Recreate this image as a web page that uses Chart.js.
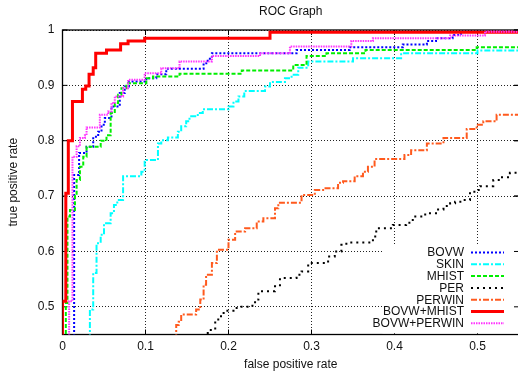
<!DOCTYPE html>
<html>
<head>
<meta charset="utf-8">
<script src="https://cdn.jsdelivr.net/npm/chart.js@4.4.1/dist/chart.umd.min.js"></script>
<style>
  html, body { margin: 0; padding: 0; background: #fff; }
  #wrap { width: 518px; height: 371px; overflow: hidden; }
  #roc { display: block; }
</style>
</head>
<body>
<div id="wrap"><canvas id="roc" width="522" height="371"></canvas></div>
<script>
// tick values
const xTicks = [0, 0.1, 0.2, 0.3, 0.4, 0.5];
const yTicks = [0.5, 0.6, 0.7, 0.8, 0.9, 1];

// series names, in legend order
const seriesNames = ['BOVW', 'SKIN', 'MHIST', 'PER', 'PERWIN', 'BOVW+MHIST', 'BOVW+PERWIN'];

// ROC corner points (false positive rate, true positive rate), drawn as steps
const bovwX = [0.014, 0.014, 0.02, 0.029, 0.037, 0.043, 0.047, 0.051, 0.059, 0.069, 0.075, 0.08, 0.101, 0.113, 0.125, 0.17, 0.175, 0.18, 0.282, 0.346, 0.41, 0.439, 0.45, 0.47, 0.48, 0.55];
const bovwY = [0.44, 0.738, 0.778, 0.789, 0.807, 0.816, 0.829, 0.841, 0.862, 0.886, 0.898, 0.907, 0.913, 0.92, 0.93, 0.94, 0.948, 0.958, 0.964, 0.969, 0.974, 0.98, 0.985, 0.991, 0.997, 0.997];

const skinX = [0.033, 0.033, 0.037, 0.041, 0.046, 0.05, 0.058, 0.062, 0.066, 0.073, 0.095, 0.099, 0.115, 0.119, 0.127, 0.139, 0.143, 0.149, 0.153, 0.163, 0.169, 0.2, 0.206, 0.212, 0.219, 0.244, 0.25, 0.268, 0.276, 0.284, 0.296, 0.35, 0.408, 0.5, 0.55];
const skinY = [0.44, 0.495, 0.561, 0.615, 0.63, 0.651, 0.669, 0.684, 0.693, 0.736, 0.744, 0.765, 0.795, 0.801, 0.806, 0.816, 0.826, 0.835, 0.844, 0.85, 0.857, 0.862, 0.871, 0.88, 0.89, 0.898, 0.906, 0.913, 0.919, 0.932, 0.943, 0.949, 0.958, 0.963, 0.963];

const mhistX = [0.004, 0.004, 0.006, 0.009, 0.015, 0.017, 0.021, 0.025, 0.029, 0.046, 0.053, 0.058, 0.063, 0.067, 0.071, 0.077, 0.101, 0.109, 0.141, 0.216, 0.278, 0.294, 0.318, 0.365, 0.499, 0.55];
const mhistY = [0.44, 0.507, 0.663, 0.675, 0.7, 0.729, 0.753, 0.771, 0.789, 0.8, 0.81, 0.85, 0.868, 0.883, 0.895, 0.904, 0.913, 0.916, 0.921, 0.927, 0.937, 0.953, 0.958, 0.964, 0.969, 0.969];

const perX = [0.175, 0.175, 0.184, 0.191, 0.196, 0.206, 0.212, 0.226, 0.232, 0.236, 0.256, 0.262, 0.282, 0.288, 0.296, 0.32, 0.328, 0.336, 0.342, 0.374, 0.378, 0.398, 0.414, 0.422, 0.437, 0.45, 0.459, 0.467, 0.473, 0.483, 0.491, 0.499, 0.503, 0.519, 0.527, 0.539, 0.55];
const perY = [0.44, 0.458, 0.477, 0.489, 0.493, 0.498, 0.5, 0.502, 0.513, 0.528, 0.537, 0.552, 0.558, 0.564, 0.579, 0.591, 0.6, 0.612, 0.616, 0.627, 0.642, 0.648, 0.652, 0.663, 0.669, 0.676, 0.682, 0.687, 0.69, 0.693, 0.708, 0.711, 0.718, 0.729, 0.734, 0.742, 0.742];

const perwinX = [0.137, 0.137, 0.14, 0.143, 0.161, 0.166, 0.17, 0.173, 0.18, 0.186, 0.2, 0.208, 0.22, 0.234, 0.242, 0.256, 0.26, 0.288, 0.304, 0.314, 0.332, 0.338, 0.352, 0.362, 0.368, 0.376, 0.412, 0.42, 0.439, 0.459, 0.487, 0.499, 0.507, 0.523, 0.55];
const perwinY = [0.44, 0.467, 0.473, 0.486, 0.495, 0.513, 0.54, 0.558, 0.579, 0.603, 0.621, 0.636, 0.642, 0.654, 0.66, 0.678, 0.688, 0.702, 0.711, 0.714, 0.724, 0.727, 0.736, 0.744, 0.753, 0.767, 0.774, 0.783, 0.795, 0.805, 0.821, 0.829, 0.835, 0.847, 0.847];

const bovwMhistX = [0, 0, 0.004, 0.007, 0.012, 0.024, 0.028, 0.032, 0.037, 0.04, 0.053, 0.07, 0.079, 0.099, 0.25, 0.55];
const bovwMhistY = [0.44, 0.51, 0.705, 0.8, 0.871, 0.893, 0.899, 0.92, 0.932, 0.958, 0.964, 0.975, 0.98, 0.985, 0.996, 0.996];

const bovwPerwinX = [0.008, 0.008, 0.012, 0.017, 0.021, 0.027, 0.029, 0.045, 0.055, 0.059, 0.063, 0.073, 0.079, 0.099, 0.119, 0.141, 0.18, 0.238, 0.274, 0.348, 0.374, 0.467, 0.509, 0.55];
const bovwPerwinY = [0.44, 0.51, 0.771, 0.79, 0.805, 0.81, 0.824, 0.847, 0.853, 0.868, 0.88, 0.895, 0.91, 0.922, 0.931, 0.943, 0.953, 0.958, 0.97, 0.98, 0.985, 0.99, 0.997, 0.997];

const seriesX = [bovwX, skinX, mhistX, perX, perwinX, bovwMhistX, bovwPerwinX];
const seriesY = [bovwY, skinY, mhistY, perY, perwinY, bovwMhistY, bovwPerwinY];

const styles = [
    { color: '#0000ff', width: 2, dash: [2, 2] },
    { color: '#00ffff', width: 2, dash: [6, 2, 2, 2] },
    { color: '#00ee00', width: 2, dash: [4, 2] },
    { color: '#000000', width: 2, dash: [2, 4] },
    { color: '#ff5a1e', width: 2, dash: [6, 2, 2, 2] },
    { color: '#ff0000', width: 3, dash: [] },
    { color: '#ff33ff', width: 2, dash: [1.5, 1] }
];

const FONT = '"Liberation Sans", Arial, Helvetica, sans-serif';

// border with inward ticks on all four sides
function drawFrame(ctx, a, x, y, rightOnly) {
    ctx.save();
    ctx.strokeStyle = '#000';
    if (!rightOnly) {
        ctx.lineWidth = 1.3;
        ctx.strokeRect(a.left, a.top, a.right - a.left, a.bottom - a.top);
    }
    ctx.lineWidth = 1;
    ctx.beginPath();
    if (!rightOnly) {
        xTicks.forEach(v => {
            const px = x.getPixelForValue(v);
            ctx.moveTo(px, a.bottom); ctx.lineTo(px, a.bottom - 5);
            ctx.moveTo(px, a.top); ctx.lineTo(px, a.top + 5);
        });
    }
    yTicks.forEach(v => {
        const py = y.getPixelForValue(v);
        if (!rightOnly) { ctx.moveTo(a.left, py); ctx.lineTo(a.left + 5, py); }
        ctx.moveTo(a.right, py); ctx.lineTo(a.right - 5, py);
    });
    ctx.stroke();
    ctx.restore();
}

const framePlugin = {
    id: 'frame',
    beforeDatasetsDraw(chart) {
        drawFrame(chart.ctx, chart.chartArea, chart.scales.x, chart.scales.y, false);
    }
};

const keyPlugin = {
    id: 'key',
    afterDatasetsDraw(chart) {
        const ctx = chart.ctx;
        const a = chart.chartArea;
        const n = chart.data.datasets.length;
        const rowH = 11.8;
        const lastRow = a.bottom - 11.2;
        const textRight = a.right - 55;
        const sx1 = a.right - 48, sx2 = a.right - 15;
        ctx.save();
        ctx.fillStyle = '#fff';
        ctx.fillRect(a.left + 320, lastRow - (n - 1) * rowH - 8, a.right - a.left - 321, (n - 1) * rowH + 18);
        ctx.font = '12px ' + FONT;
        ctx.textAlign = 'right';
        ctx.textBaseline = 'middle';
        chart.data.datasets.forEach((ds, i) => {
            const cy = lastRow - (n - 1 - i) * rowH;
            ctx.fillStyle = '#111';
            ctx.fillText(ds.label, textRight, cy + 0.5);
            ctx.strokeStyle = ds.borderColor;
            ctx.lineWidth = ds.borderWidth;
            ctx.setLineDash(ds.borderDash);
            ctx.beginPath();
            ctx.moveTo(sx1, cy);
            ctx.lineTo(sx2, cy);
            ctx.stroke();
        });
        ctx.restore();
        drawFrame(ctx, a, chart.scales.x, chart.scales.y, true);
    }
};

const titlePlugin = {
    id: 'rocTitle',
    afterDraw(chart) {
        const ctx = chart.ctx;
        const a = chart.chartArea;
        ctx.save();
        ctx.font = '12px ' + FONT;
        ctx.fillStyle = '#111';
        ctx.textAlign = 'center';
        ctx.textBaseline = 'middle';
        ctx.fillText('ROC Graph', (a.left + a.right) / 2, 12);
        ctx.restore();
    }
};

const datasets = seriesNames.map((name, i) => ({
    label: name,
    data: seriesX[i].map((v, j) => ({ x: v, y: seriesY[i][j] })),
    borderColor: styles[i].color,
    borderWidth: styles[i].width,
    borderDash: styles[i].dash,
    stepped: 'before',
    pointRadius: 0,
    fill: false,
    order: seriesNames.length - i
}));

new Chart(document.getElementById('roc'), {
    type: 'line',
    data: { datasets },
    plugins: [framePlugin, keyPlugin, titlePlugin],
    options: {
        responsive: false,
        animation: false,
        devicePixelRatio: 1,
        layout: { padding: { left: 0, top: 30, right: 3, bottom: 0 } },
        plugins: {
            legend: { display: false },
            title: { display: false },
            tooltip: { enabled: false }
        },
        scales: {
            x: {
                type: 'linear',
                min: 0,
                max: 0.55,
                afterBuildTicks: s => { s.ticks = xTicks.map(v => ({ value: v })); },
                afterFit: s => { s.height = 36.5; },
                ticks: { autoSkip: false, padding: 5, color: '#111', font: { family: FONT, size: 12 }, callback: v => String(v) },
                grid: { color: '#222', lineWidth: 1, drawTicks: false },
                border: { display: false, dash: [1, 2] },
                title: { display: true, text: 'false positive rate', color: '#111', font: { family: FONT, size: 12, lineHeight: 1 }, padding: { top: 0, bottom: 0 } }
            },
            y: {
                type: 'linear',
                min: 0.45,
                max: 1,
                afterBuildTicks: s => { s.ticks = yTicks.map(v => ({ value: v })); },
                afterFit: s => { s.width = 62.5; },
                ticks: { autoSkip: false, padding: 8, color: '#111', font: { family: FONT, size: 12 }, callback: v => String(v) },
                grid: { color: '#222', lineWidth: 1, drawTicks: false },
                border: { display: false, dash: [1, 2] },
                title: { display: true, text: 'true positive rate', color: '#111', font: { family: FONT, size: 12, lineHeight: 1 }, padding: { top: 8, bottom: 0 } }
            }
        }
    }
});
</script>
</body>
</html>
